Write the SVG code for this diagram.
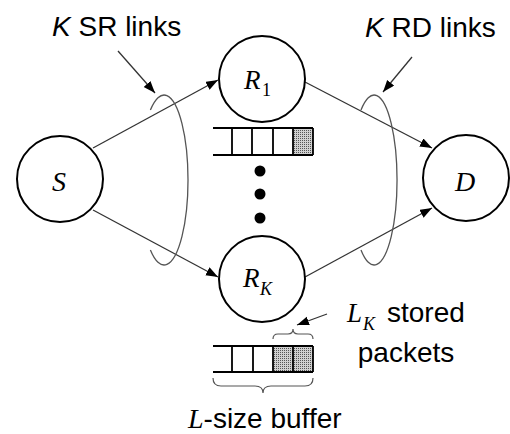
<svg xmlns="http://www.w3.org/2000/svg" width="510" height="434" viewBox="0 0 510 434">
<style>
.node{fill:#fff;stroke:#000;stroke-width:2}
.edge{stroke:#333;stroke-width:1.3;fill:none;marker-end:url(#ah)}
.loop{stroke:#555;stroke-width:1.3;fill:none}
.brace{stroke:#555;stroke-width:1.2;fill:none}
.buf{stroke:#000;stroke-width:1.8;fill:none}
.sans{font-family:"Liberation Sans",Arial,sans-serif;font-size:28px;fill:#000}
.math{font-family:"Liberation Serif","Times New Roman",serif;font-style:italic;fill:#000}
</style>
<defs>
<marker id="ah" markerUnits="userSpaceOnUse" markerWidth="13" markerHeight="10" refX="12" refY="4.5" orient="auto">
<path d="M0,0 L12,4.5 L0,9 z" fill="#000"/>
</marker>
<pattern id="dots" width="2" height="2" patternUnits="userSpaceOnUse">
<rect width="2" height="2" fill="#d0d0d0"/>
<rect width="1" height="1" fill="#555"/>
</pattern>
</defs>
<rect width="510" height="434" fill="#fff"/>

<g id="connectors">
<line class="edge" x1="93" y1="148" x2="218" y2="80"/>
<line class="edge" x1="93" y1="210" x2="218" y2="277"/>
<line class="edge" x1="305" y1="82" x2="432" y2="148"/>
<line class="edge" x1="305" y1="277" x2="432" y2="208"/>
<path class="loop" d="M150.4,110 A24,85 0 1 1 150.4,250"/>
<path class="loop" d="M361,110 A23,85 0 1 1 361,250"/>
<line class="edge" x1="118" y1="51" x2="155" y2="93"/>
<line class="edge" x1="412" y1="57" x2="383" y2="92"/>
<line class="edge" x1="327" y1="314" x2="297" y2="325"/>
</g>

<g id="S">
<circle class="node" cx="60" cy="179" r="43"/>
<text class="math" x="59" y="191" font-size="28" text-anchor="middle">S</text>
</g>
<g id="R1">
<circle class="node" cx="262" cy="79" r="43"/>
<text class="math" x="244" y="89" font-size="27">R</text>
<text x="262" y="96" font-family="Liberation Serif,serif" font-size="18">1</text>
</g>
<g id="RK">
<circle class="node" cx="262" cy="279" r="43"/>
<text class="math" x="243" y="287" font-size="27">R</text>
<text class="math" x="260" y="295" font-size="18">K</text>
</g>
<g id="D">
<circle class="node" cx="466" cy="178" r="43"/>
<text class="math" x="465" y="191" font-size="28" text-anchor="middle">D</text>
</g>

<g id="buffer1">
<rect x="293" y="128" width="20" height="27" fill="url(#dots)"/>
<path class="buf" d="M213,128 H313 M213,155 H313 M232,128 V155 M252,128 V155 M273,128 V155 M293,128 V155 M313,128 V155"/>
</g>
<g id="dots-ellipsis">
<circle cx="260" cy="171" r="5.5" fill="#000"/>
<circle cx="260" cy="194" r="5.5" fill="#000"/>
<circle cx="260" cy="218" r="5.5" fill="#000"/>
</g>
<g id="bufferK">
<rect x="273" y="346" width="40" height="26" fill="url(#dots)"/>
<path class="buf" d="M213,346 H313 M213,372 H313 M232,346 V372 M253,346 V372 M273,346 V372 M293,346 V372 M313,346 V372"/>
<path class="brace" d="M273,339 Q273,334 278,334 L288,334 Q293,334 293,329 Q293,334 298,334 L308,334 Q313,334 313,339"/>
<path class="brace" d="M213,378 Q213,386 221,386 L255,386 Q263,386 263,393 Q263,386 271,386 L305,386 Q313,386 313,378"/>
</g>

<g id="labels">
<text class="sans" x="52" y="36"><tspan font-style="italic">K</tspan> SR links</text>
<text class="sans" x="365" y="37"><tspan font-style="italic">K</tspan> RD links</text>
<text class="math" x="347" y="322" font-size="27">L</text>
<text class="math" x="363" y="330" font-size="18">K</text>
<text class="sans" x="387" y="322">stored</text>
<text class="sans" x="406" y="362" text-anchor="middle">packets</text>
<text x="188" y="428"><tspan class="math" font-size="28">L</tspan><tspan class="sans">-size buffer</tspan></text>
</g>
</svg>
